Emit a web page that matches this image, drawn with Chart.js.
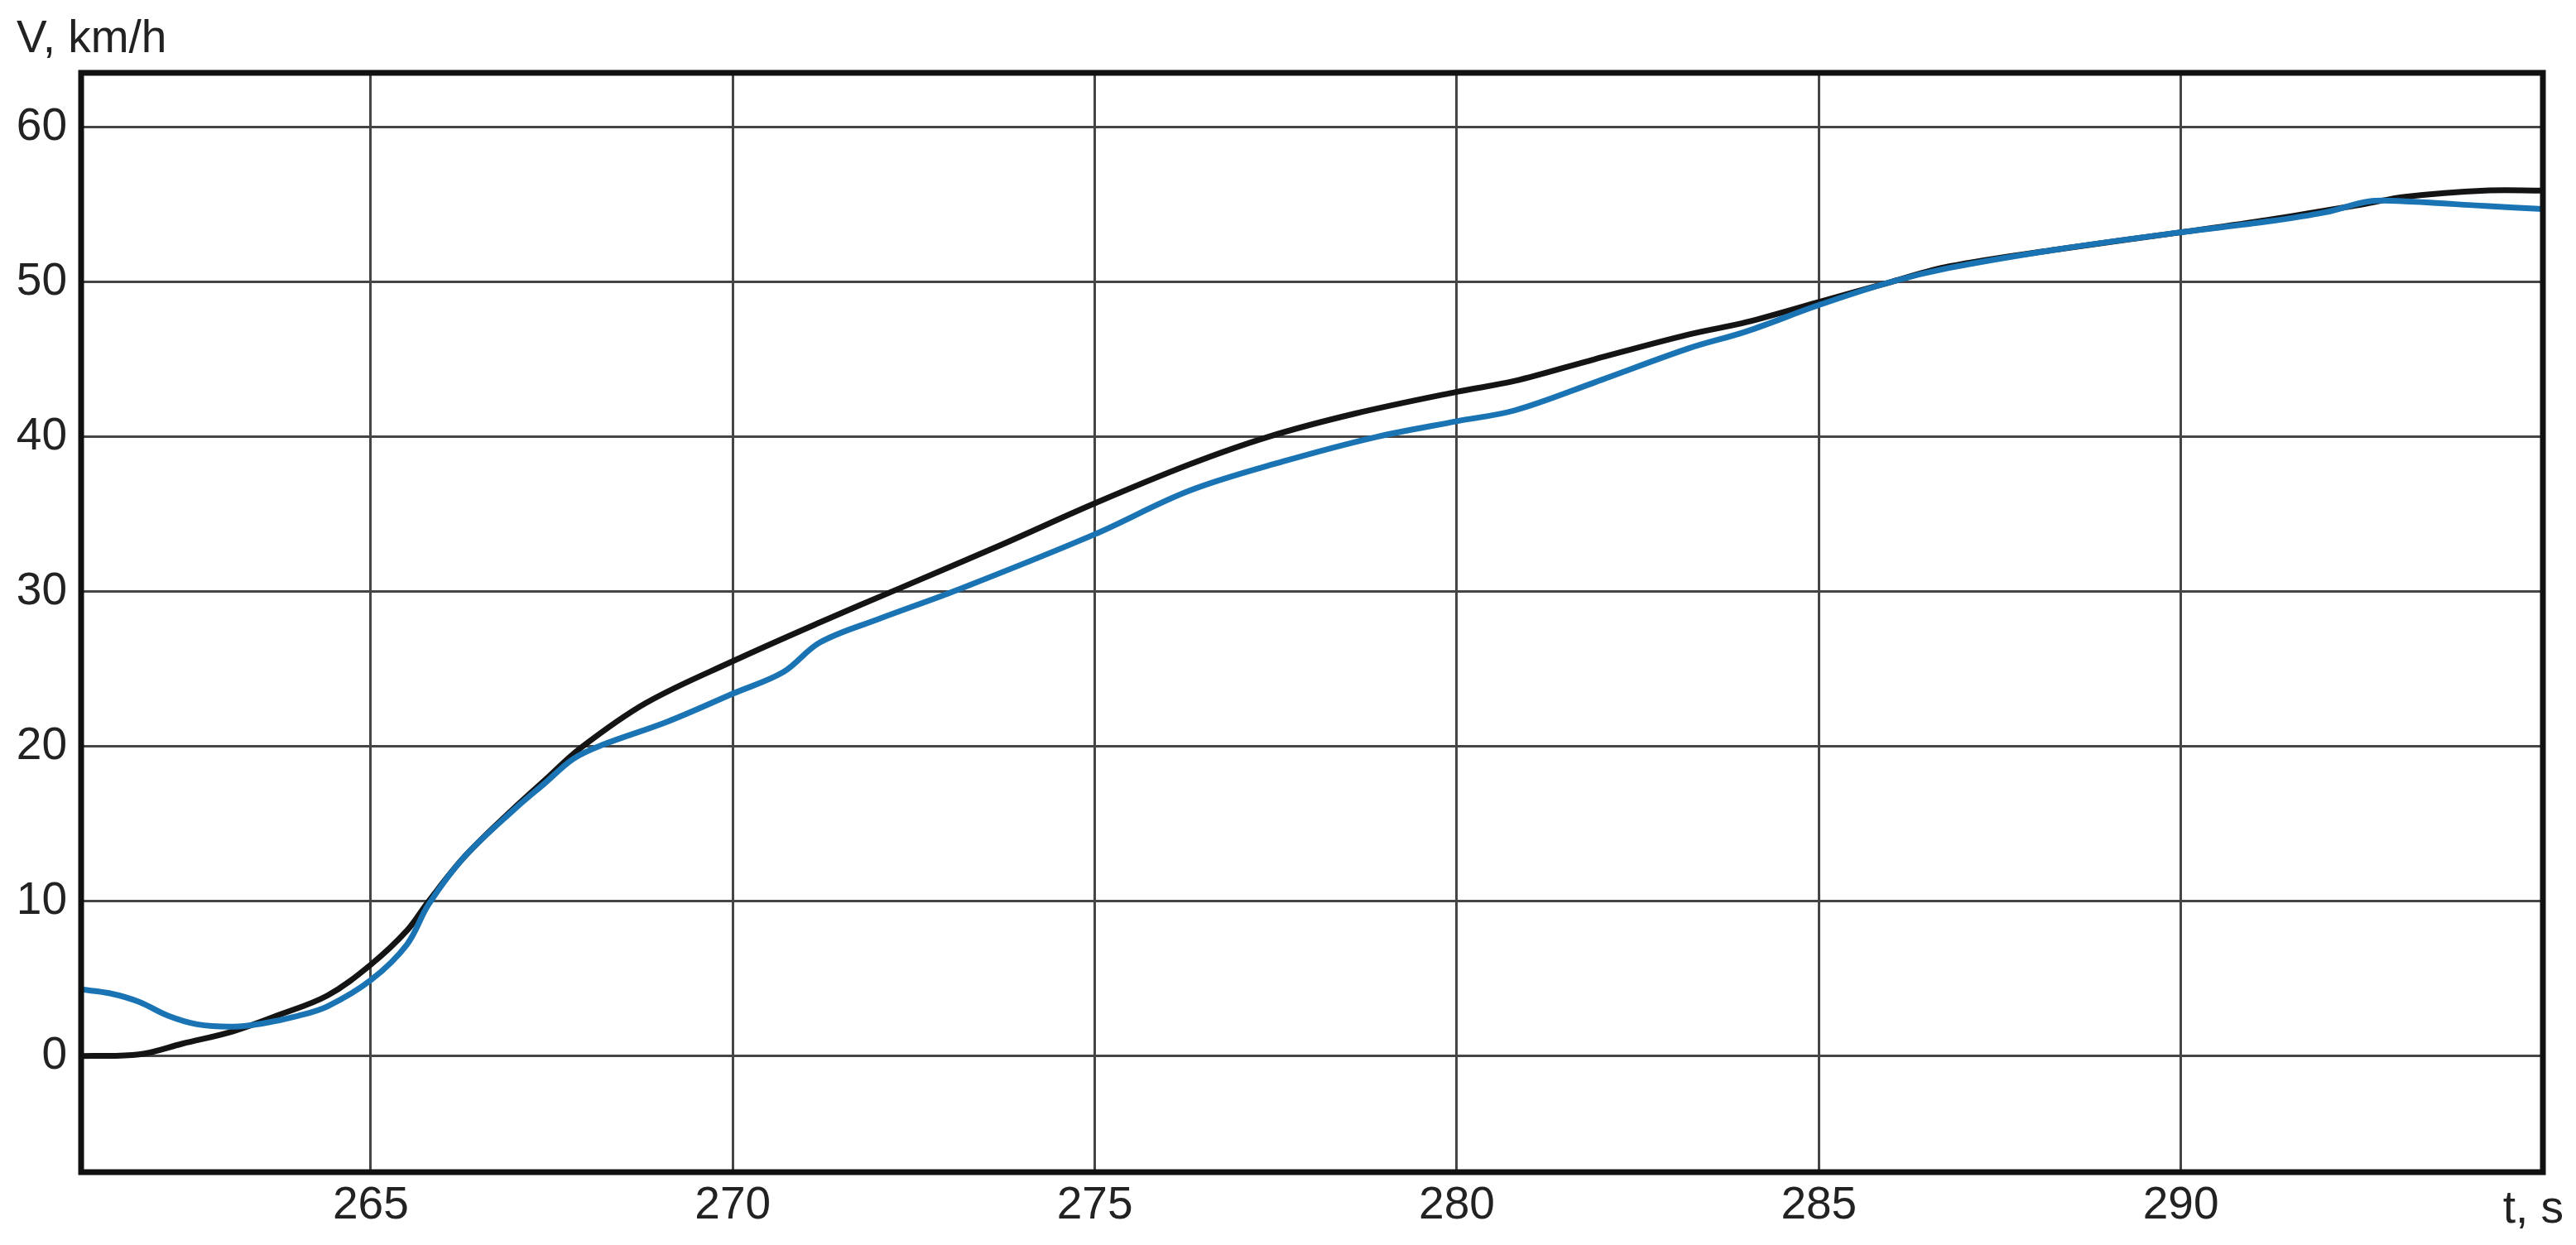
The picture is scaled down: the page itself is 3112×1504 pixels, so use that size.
<!DOCTYPE html>
<html>
<head>
<meta charset="utf-8">
<script src="https://cdn.jsdelivr.net/npm/chart.js@4/dist/chart.umd.min.js"></script>
<style>
  html, body { margin: 0; padding: 0; background: #ffffff; }
  #wrap { width: 3112px; height: 1504px; }
</style>
</head>
<body>
<div id="wrap"><canvas id="c" width="3112" height="1504"></canvas></div>
<script>
// ---- data ----
const blackT = [261.0, 261.8, 262.4, 263.1, 263.7, 264.4, 265.0, 265.5, 265.8, 266.3, 267.0, 267.4, 267.9, 268.8, 270.0, 271.2, 272.3, 273.7, 275.0, 276.3, 277.4, 278.6, 280.0, 280.8, 281.9, 283.2, 284.0, 285.0, 286.0, 286.8, 288.3, 290.0, 291.2, 292.5, 293.1, 294.2, 295.0];
const blackV = [0.0, 0.1, 0.8, 1.6, 2.6, 3.9, 5.9, 8.1, 10.0, 12.9, 16.1, 17.8, 19.9, 22.8, 25.5, 28.0, 30.2, 33.0, 35.7, 38.2, 40.0, 41.5, 42.9, 43.6, 45.0, 46.6, 47.4, 48.7, 50.0, 51.0, 52.1, 53.2, 54.0, 55.0, 55.5, 55.9, 55.9];

const blueT = [261.0, 261.4, 261.8, 262.2, 262.6, 263.1, 263.5, 264.0, 264.4, 265.0, 265.5, 265.8, 266.3, 267.0, 267.4, 267.8, 268.2, 269.1, 270.0, 270.7, 271.2, 272.0, 273.1, 275.0, 276.3, 277.6, 278.9, 280.0, 280.8, 281.9, 283.2, 284.0, 285.0, 286.0, 286.8, 288.3, 290.0, 291.2, 292.0, 292.6, 293.1, 294.2, 295.0];
const blueV = [4.3, 4.05, 3.5, 2.6, 2.05, 1.9, 2.1, 2.6, 3.2, 4.9, 7.2, 9.8, 12.9, 16.0, 17.6, 19.2, 20.1, 21.6, 23.4, 24.8, 26.7, 28.2, 30.1, 33.7, 36.5, 38.4, 40.0, 41.0, 41.7, 43.5, 45.7, 46.8, 48.5, 50.0, 50.9, 52.1, 53.2, 53.9, 54.5, 55.2, 55.2, 54.9, 54.7];

const xTicks = [265, 270, 275, 280, 285, 290];
const yTicks = [0, 10, 20, 30, 40, 50, 60];
const yAxisTitle = 'V, km/h';
const xAxisTitle = 't, s';

// ---- chart ----
const FONT = '"Liberation Sans", Arial, Helvetica, sans-serif';
const TEXT = '#222222';
const FSIZE = 55;

const toPts = (xs, ys) => xs.map((x, i) => ({ x: x, y: ys[i] }));

const frameAndTitles = {
  id: 'frameAndTitles',
  afterDatasetsDraw(chart) {
    const { ctx, chartArea: a } = chart;
    ctx.save();
    ctx.strokeStyle = '#111111';
    ctx.lineWidth = 7;
    ctx.strokeRect(a.left, a.top, a.right - a.left, a.bottom - a.top);
    ctx.restore();
  },
  afterDraw(chart) {
    const { ctx } = chart;
    ctx.save();
    ctx.fillStyle = TEXT;
    ctx.font = FSIZE + 'px ' + FONT;
    ctx.textBaseline = 'alphabetic';
    ctx.textAlign = 'left';
    ctx.fillText(yAxisTitle, 20, 63);
    ctx.textAlign = 'right';
    ctx.fillText(xAxisTitle, 3097, 1477);
    ctx.restore();
  }
};

new Chart(document.getElementById('c'), {
  type: 'line',
  data: {
    datasets: [
      {
        label: 'black',
        data: toPts(blackT, blackV),
        borderColor: '#141414',
        borderWidth: 7,
        pointRadius: 0,
        tension: 0.35,
        fill: false,
        order: 2
      },
      {
        label: 'blue',
        data: toPts(blueT, blueV),
        borderColor: '#1a74b4',
        borderWidth: 7,
        pointRadius: 0,
        tension: 0.35,
        fill: false,
        order: 1
      }
    ]
  },
  options: {
    responsive: false,
    animation: false,
    devicePixelRatio: 1,
    layout: { padding: { top: 88, right: 40, bottom: 0, left: 0 } },
    plugins: {
      legend: { display: false },
      tooltip: { enabled: false },
      title: { display: false }
    },
    scales: {
      x: {
        type: 'linear',
        min: 261,
        max: 295,
        afterBuildTicks: (s) => { s.ticks = xTicks.map(v => ({ value: v })); },
        afterFit: (s) => { s.height = 88; },
        grid: { color: '#454545', lineWidth: 3, drawTicks: false },
        border: { display: false },
        ticks: {
          padding: 8,
          maxRotation: 0,
          autoSkip: false,
          color: TEXT,
          font: { family: FONT, size: FSIZE },
          callback: (v) => String(v)
        }
      },
      y: {
        type: 'linear',
        min: -7.5,
        max: 63.5,
        afterBuildTicks: (s) => { s.ticks = yTicks.map(v => ({ value: v })); },
        afterFit: (s) => { s.width = 98; },
        grid: { color: '#454545', lineWidth: 3, drawTicks: false },
        border: { display: false },
        ticks: {
          padding: 17,
          autoSkip: false,
          color: TEXT,
          font: { family: FONT, size: FSIZE },
          callback: (v) => String(v)
        }
      }
    }
  },
  plugins: [frameAndTitles]
});
</script>
</body>
</html>
